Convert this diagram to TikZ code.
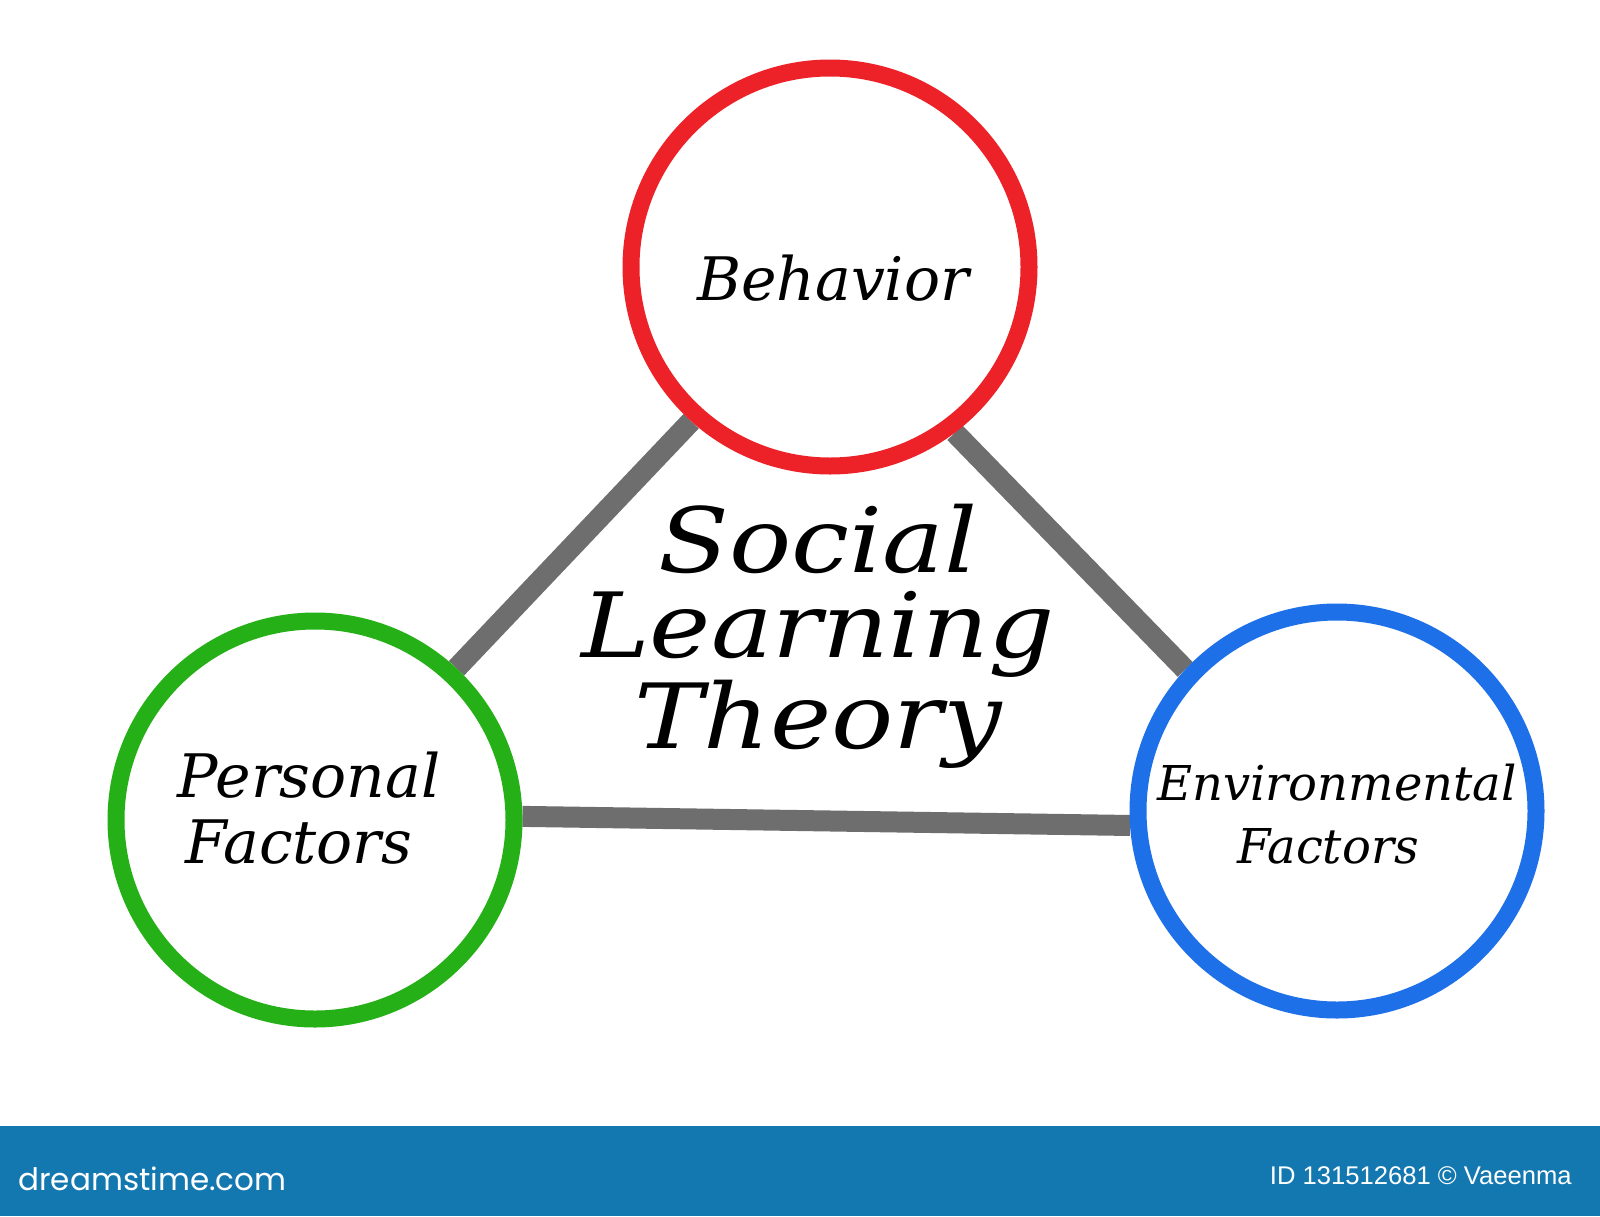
\documentclass[tikz,border=0pt]{standalone}
\usepackage{fontspec}
\newfontfamily\hand{DejaVu Serif}
\newfontfamily\titlehand{DejaVu Serif}[FakeStretch=1.15]
\newfontfamily\bannerfont{Poppins}
\newfontfamily\idfont{Liberation Sans}
\usetikzlibrary{backgrounds}
\definecolor{cred}{RGB}{236,34,40}
\definecolor{cgreen}{RGB}{36,176,22}
\definecolor{cblue}{RGB}{30,112,232}
\definecolor{cgray}{RGB}{110,110,110}
\definecolor{cbanner}{RGB}{20,120,176}
\begin{document}
\begin{tikzpicture}[x=0.5pt,y=-0.5pt,
  ring/.style={circle,draw,line width=8.5pt,minimum size=199pt,inner sep=0pt,fill=white},
  link/.style={draw=cgray,line width=10.5pt},
  lbl/.style={anchor=base,inner sep=0pt,font=\hand\itshape\fontsize{30}{36}\selectfont},
  lblsmall/.style={anchor=base,inner sep=0pt,font=\hand\itshape\fontsize{24}{29}\selectfont},
  titletext/.style={anchor=base,inner sep=0pt,align=center,font=\titlehand\itshape\fontsize{45}{42.5}\selectfont}]
\useasboundingbox (0,0) rectangle (1600,1216);
% circles
\node[ring,draw=cred]   (B) at (830,267) {};
\node[ring,draw=cgreen] (P) at (315,820) {};
\node[ring,draw=cblue]  (E) at (1337,811) {};
% connectors behind the circles
\begin{pgfonlayer}{background}
\fill[white] (0,0) rectangle (1600,1216);
\draw[link] (B.228) -- (P.47);
\draw[link] (B.-53) -- (E.137);
\draw[link] (P.1) -- (E.184);
\end{pgfonlayer}
% labels
\node[lbl] (Bt) at (833,300) {Behavior};
\node[lbl] (Pt1) at (309,797) {Personal};
\node[lbl] (Pt2) at (299,863) {Factors};
\node[lblsmall] (Et1) at (1337,800) {Environmental};
\node[lblsmall] (Et2) at (1328,863) {Factors};
% title (base anchor = baseline of last line)
\node[titletext] (T) at (818,748) {Social\\Learning\\Theory};
% banner
\fill[cbanner] (0,1126) rectangle (1600,1216);
\node[anchor=base west,inner sep=0pt,text=white,font=\bannerfont\fontsize{15.5}{18}\selectfont] (DS) at (18,1190) {dreamstime.com};
\node[anchor=base east,inner sep=0pt,text=white,font=\idfont\fontsize{12.8}{15}\selectfont] (ID) at (1572,1184) {ID 131512681 © Vaeenma};
\end{tikzpicture}
\end{document}
